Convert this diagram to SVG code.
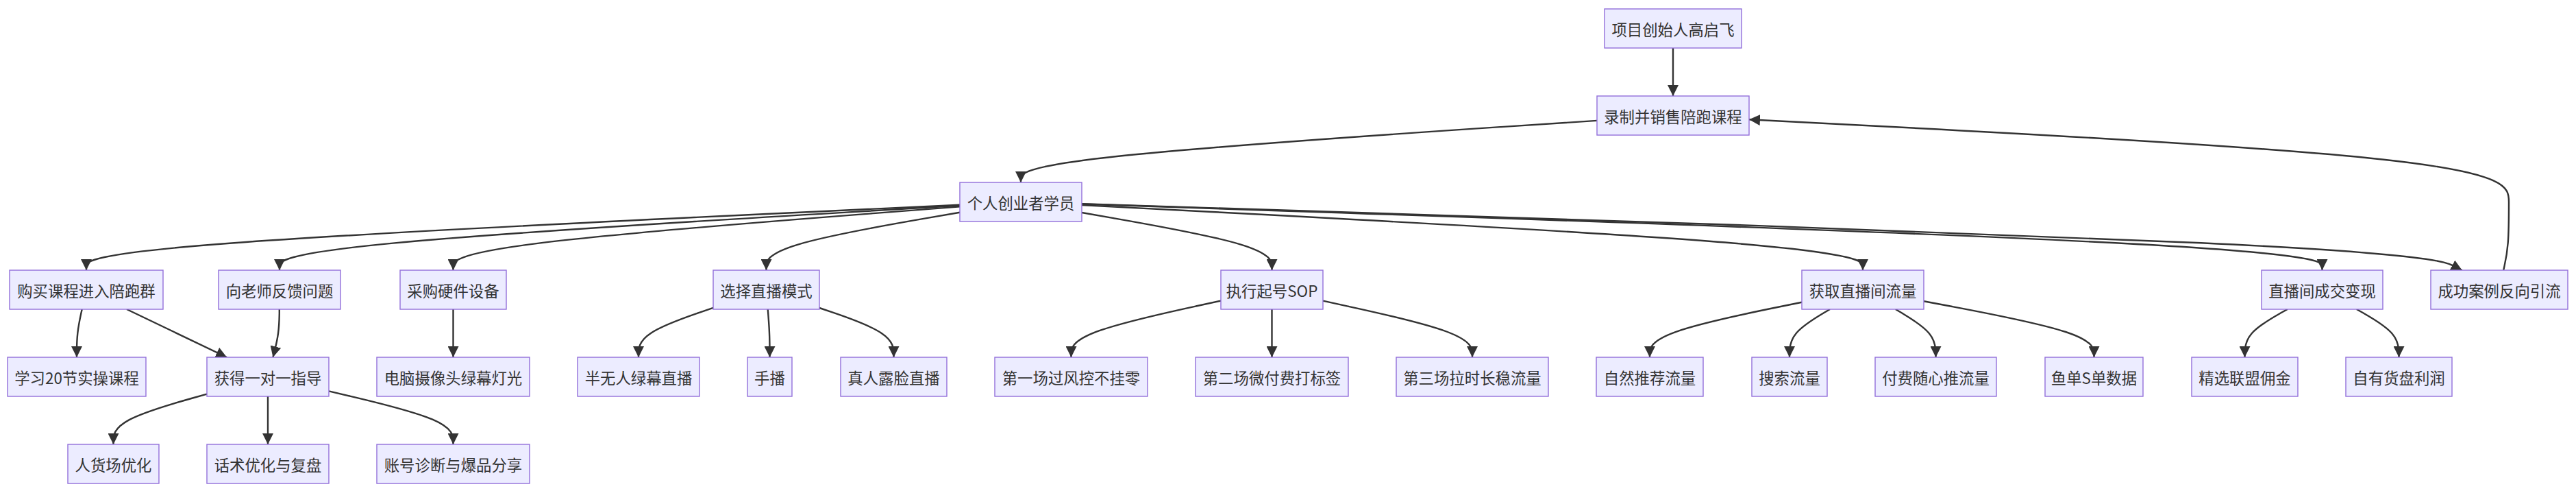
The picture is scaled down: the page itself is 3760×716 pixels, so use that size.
<svg xmlns="http://www.w3.org/2000/svg" width="3760" height="716" viewBox="0 0 3760 716">
<style>
.node rect{fill:#ECECFF;stroke:#9370DB;stroke-width:1.4}
.node text{fill:#333333;font-family:"Noto Sans CJK SC","Noto Sans",sans-serif;font-size:22.4px;text-anchor:middle;dominant-baseline:central}
.edges path{fill:none;stroke:#333333;stroke-width:2.4;marker-end:url(#arrow)}
</style>
<defs>
<marker id="arrow" viewBox="0 0 10 10" refX="10" refY="5" markerUnits="userSpaceOnUse" markerWidth="16" markerHeight="16" orient="auto">
<path d="M0,0 L10,5 L0,10 z" fill="#333333"/>
</marker>
</defs>
<rect width="3760" height="716" fill="#ffffff"/>
<g id="edges" class="edges">
<path d="M2442,70 L2442,140"/>
<path d="M2331,175.9 L2190.8,185.1 C2050.7,194.4 1770.3,213 1630.2,228 C1490,243 1490,254.5 1490,260.3 L1490,266"/>
<path d="M3654.2,394 L3655.5,388.1 C3656.8,382.2 3659.4,370.3 3660.7,353.8 C3662,337.2 3662,315.8 3662,294.7 C3662,273.5 3662,252.5 3477.2,232.5 C3292.3,212.4 2922.7,193.3 2737.8,183.8 L2553,174.2"/>
<path d="M1401,298.7 L1188.5,308.7 C976,318.6 551,338.6 338.5,354.5 C126,370.3 126,382.2 126,388.1 L126,394"/>
<path d="M1401,299.8 L1235.5,309.6 C1070,319.4 739,338.9 573.5,354.6 C408,370.3 408,382.2 408,388.1 L408,394"/>
<path d="M1401,301.4 L1277.8,310.9 C1154.5,320.4 908,339.5 784.8,354.9 C661.5,370.3 661.5,382.2 661.5,388.1 L661.5,394"/>
<path d="M1401,309.8 L1353.9,317.9 C1306.8,326 1212.7,342.3 1165.6,356.3 C1118.5,370.3 1118.5,382.2 1118.5,388.1 L1118.5,394"/>
<path d="M1579,310 L1625.3,318.1 C1671.5,326.2 1764,342.3 1810.3,356.3 C1856.5,370.3 1856.5,382.2 1856.5,388.1 L1856.5,394"/>
<path d="M1579,299.1 L1769,309 C1959,318.9 2339,338.7 2529,354.5 C2719,370.3 2719,382.2 2719,388.1 L2719,394"/>
<path d="M1579,297.5 L1880.8,307.7 C2182.5,317.8 2786,338.2 3087.8,354.3 C3389.5,370.3 3389.5,382.2 3389.5,388.1 L3389.5,394"/>
<path d="M1579,297.3 L1903.5,307.5 C2228,317.7 2877,338.1 3212.8,354.2 C3548.6,370.3 3571.1,382.2 3582.4,388.1 L3593.7,394"/>
<path d="M119.7,451 L118.4,456.8 C117.1,462.7 114.6,474.3 113.3,486 C112,497.7 112,509.3 112,515.2 L112,521"/>
<path d="M185,451 L331.1,521"/>
<path d="M407.8,451 L407.8,456.8 C407.7,462.7 407.6,474.3 406,486 C404.5,497.7 401.4,509.3 399.9,515.2 L398.4,521"/>
<path d="M661.5,451 L661.5,521"/>
<path d="M1041,448.9 L1022.8,455.1 C1004.7,461.3 968.3,473.6 950.2,485.7 C932,497.7 932,509.3 932,515.2 L932,521"/>
<path d="M1120.7,451 L1121.2,456.8 C1121.6,462.7 1122.6,474.3 1123,486 C1123.5,497.7 1123.5,509.3 1123.5,515.2 L1123.5,521"/>
<path d="M1196,449 L1214.1,455.2 C1232.2,461.3 1268.3,473.7 1286.4,485.7 C1304.5,497.7 1304.5,509.3 1304.5,515.2 L1304.5,521"/>
<path d="M1782,438.6 L1745.6,446.5 C1709.2,454.4 1636.3,470.2 1599.9,483.9 C1563.5,497.7 1563.5,509.3 1563.5,515.2 L1563.5,521"/>
<path d="M1856.5,451 L1856.5,521"/>
<path d="M1931,438.7 L1967.3,446.6 C2003.7,454.5 2076.3,470.2 2112.7,484 C2149,497.7 2149,509.3 2149,515.2 L2149,521"/>
<path d="M2630,440.7 L2593,448.3 C2556,455.8 2482,470.9 2445,484.3 C2408,497.7 2408,509.3 2408,515.2 L2408,521"/>
<path d="M2671,451 L2661.2,456.8 C2651.3,462.7 2631.7,474.3 2621.8,486 C2612,497.7 2612,509.3 2612,515.2 L2612,521"/>
<path d="M2766.8,451 L2776.6,456.8 C2786.4,462.7 2805.9,474.3 2815.7,486 C2825.5,497.7 2825.5,509.3 2825.5,515.2 L2825.5,521"/>
<path d="M2808,439.2 L2849.4,447 C2890.8,454.8 2973.7,470.4 3015.1,484 C3056.5,497.7 3056.5,509.3 3056.5,515.2 L3056.5,521"/>
<path d="M3338.8,451 L3328.4,456.8 C3318,462.7 3297.3,474.3 3286.9,486 C3276.5,497.7 3276.5,509.3 3276.5,515.2 L3276.5,521"/>
<path d="M3439.8,451 L3450.1,456.8 C3460.4,462.7 3480.9,474.3 3491.2,486 C3501.5,497.7 3501.5,509.3 3501.5,515.2 L3501.5,521"/>
<path d="M302,574.6 L279.3,581 C256.5,587.4 211,600.2 188.3,612.4 C165.5,624.7 165.5,636.3 165.5,642.2 L165.5,648"/>
<path d="M391,578 L391,648"/>
<path d="M480,570.4 L510.3,577.5 C540.5,584.6 601,598.8 631.3,611.7 C661.5,624.7 661.5,636.3 661.5,642.2 L661.5,648"/>
</g>
<g id="n1" class="node"><rect x="2342" y="13" width="200" height="57"/><text x="2442" y="41.5">项目创始人高启飞</text></g>
<g id="n2" class="node"><rect x="2331" y="140" width="222" height="57"/><text x="2442" y="168.5">录制并销售陪跑课程</text></g>
<g id="n3" class="node"><rect x="1401" y="266" width="178" height="57"/><text x="1490" y="294.5">个人创业者学员</text></g>
<g id="n4" class="node"><rect x="14" y="394" width="224" height="57"/><text x="126" y="422.5">购买课程进入陪跑群</text></g>
<g id="n5" class="node"><rect x="319" y="394" width="178" height="57"/><text x="408" y="422.5">向老师反馈问题</text></g>
<g id="n6" class="node"><rect x="584" y="394" width="155" height="57"/><text x="661.5" y="422.5">采购硬件设备</text></g>
<g id="n7" class="node"><rect x="1041" y="394" width="155" height="57"/><text x="1118.5" y="422.5">选择直播模式</text></g>
<g id="n8" class="node"><rect x="1782" y="394" width="149" height="57"/><text x="1856.5" y="422.5">执行起号SOP</text></g>
<g id="n9" class="node"><rect x="2630" y="394" width="178" height="57"/><text x="2719" y="422.5">获取直播间流量</text></g>
<g id="n10" class="node"><rect x="3301" y="394" width="177" height="57"/><text x="3389.5" y="422.5">直播间成交变现</text></g>
<g id="n11" class="node"><rect x="3548" y="394" width="200" height="57"/><text x="3648" y="422.5">成功案例反向引流</text></g>
<g id="n12" class="node"><rect x="11" y="521" width="202" height="57"/><text x="112" y="549.5">学习20节实操课程</text></g>
<g id="n13" class="node"><rect x="302" y="521" width="178" height="57"/><text x="391" y="549.5">获得一对一指导</text></g>
<g id="n14" class="node"><rect x="550" y="521" width="223" height="57"/><text x="661.5" y="549.5">电脑摄像头绿幕灯光</text></g>
<g id="n15" class="node"><rect x="843" y="521" width="178" height="57"/><text x="932" y="549.5">半无人绿幕直播</text></g>
<g id="n16" class="node"><rect x="1091" y="521" width="65" height="57"/><text x="1123.5" y="549.5">手播</text></g>
<g id="n17" class="node"><rect x="1227" y="521" width="155" height="57"/><text x="1304.5" y="549.5">真人露脸直播</text></g>
<g id="n18" class="node"><rect x="1452" y="521" width="223" height="57"/><text x="1563.5" y="549.5">第一场过风控不挂零</text></g>
<g id="n19" class="node"><rect x="1745" y="521" width="223" height="57"/><text x="1856.5" y="549.5">第二场微付费打标签</text></g>
<g id="n20" class="node"><rect x="2038" y="521" width="222" height="57"/><text x="2149" y="549.5">第三场拉时长稳流量</text></g>
<g id="n21" class="node"><rect x="2330" y="521" width="156" height="57"/><text x="2408" y="549.5">自然推荐流量</text></g>
<g id="n22" class="node"><rect x="2557" y="521" width="110" height="57"/><text x="2612" y="549.5">搜索流量</text></g>
<g id="n23" class="node"><rect x="2737" y="521" width="177" height="57"/><text x="2825.5" y="549.5">付费随心推流量</text></g>
<g id="n24" class="node"><rect x="2985" y="521" width="143" height="57"/><text x="3056.5" y="549.5">鱼单S单数据</text></g>
<g id="n25" class="node"><rect x="3199" y="521" width="155" height="57"/><text x="3276.5" y="549.5">精选联盟佣金</text></g>
<g id="n26" class="node"><rect x="3424" y="521" width="155" height="57"/><text x="3501.5" y="549.5">自有货盘利润</text></g>
<g id="n27" class="node"><rect x="99" y="648" width="133" height="57"/><text x="165.5" y="676.5">人货场优化</text></g>
<g id="n28" class="node"><rect x="302" y="648" width="178" height="57"/><text x="391" y="676.5">话术优化与复盘</text></g>
<g id="n29" class="node"><rect x="550" y="648" width="223" height="57"/><text x="661.5" y="676.5">账号诊断与爆品分享</text></g>
</svg>
